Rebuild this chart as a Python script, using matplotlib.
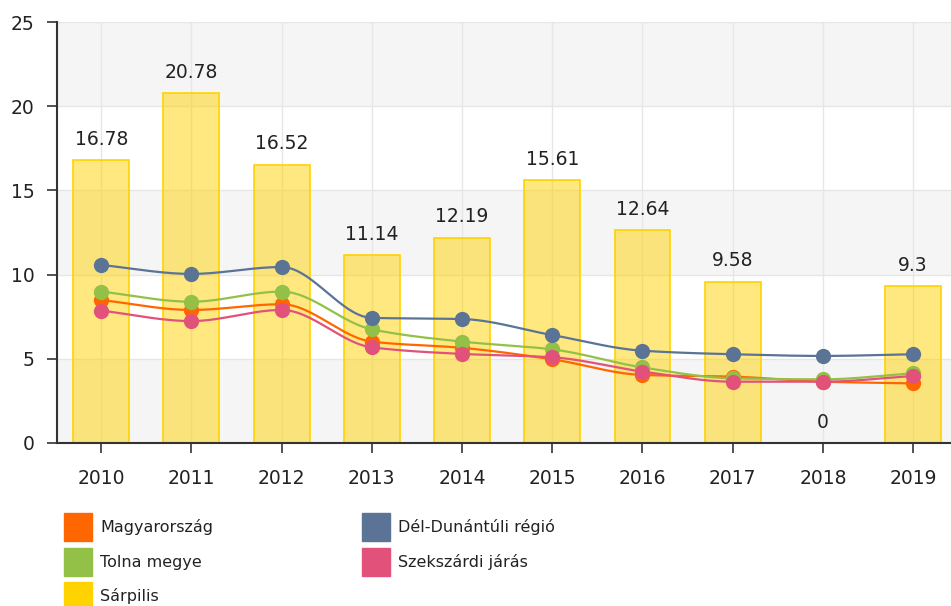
import numpy as np
import matplotlib
matplotlib.use("Agg")
import matplotlib.pyplot as plt
from matplotlib.patches import Rectangle

years = ["2010", "2011", "2012", "2013", "2014", "2015", "2016", "2017", "2018", "2019"]
sarpilis = [16.78, 20.78, 16.52, 11.14, 12.19, 15.61, 12.64, 9.58, 0, 9.3]
magyarorszag = [8.49, 7.90, 8.24, 6.02, 5.65, 4.97, 4.04, 3.94, 3.64, 3.54]
tolna = [8.99, 8.39, 8.99, 6.75, 6.02, 5.56, 4.49, 3.84, 3.78, 4.14]
del_dunantul = [10.57, 10.04, 10.45, 7.43, 7.36, 6.41, 5.48, 5.27, 5.17, 5.27]
szekszard = [7.86, 7.24, 7.90, 5.68, 5.29, 5.09, 4.24, 3.64, 3.64, 3.98]

names = ["Magyarország", "Tolna megye", "Sárpilis", "Dél-Dunántúli régió", "Szekszárdi járás"]
colors = {"Magyarország": "#FF6600", "Tolna megye": "#93C047", "Sárpilis": "#FFD300",
          "Dél-Dunántúli régió": "#5B7496", "Szekszárdi járás": "#E2517A"}

plt.rcParams['font.family'] = ['DejaVu Sans']


def smooth(x, y, n=30):
    x = np.asarray(x, float); y = np.asarray(y, float)
    h = np.diff(x); d = np.diff(y) / h
    m = np.zeros_like(y)
    m[0] = d[0]; m[-1] = d[-1]
    for i in range(1, len(y) - 1):
        if d[i - 1] * d[i] <= 0:
            m[i] = 0
        else:
            m[i] = 2 / (1 / d[i - 1] + 1 / d[i])
    xs, ys = [], []
    for i in range(len(x) - 1):
        t = np.linspace(0, 1, n)
        h00 = 2*t**3 - 3*t**2 + 1; h10 = t**3 - 2*t**2 + t
        h01 = -2*t**3 + 3*t**2; h11 = t**3 - t**2
        xs.append(x[i] + t*h[i])
        ys.append(h00*y[i] + h10*h[i]*m[i] + h01*y[i+1] + h11*h[i]*m[i+1])
    return np.concatenate(xs), np.concatenate(ys)


fig = plt.figure(figsize=(9.51, 6.06), dpi=100)
ax = fig.add_axes([57/951, 1-443/606, 1-57/951, (443-22)/606])
ax.set_xlim(-0.49, 9.42)
ax.set_ylim(0, 25)

# alternating bands
for k, lo in enumerate(range(0, 25, 5)):
    if k % 2 == 0:
        ax.axhspan(lo, lo+5, color="#F5F5F5", zorder=0, lw=0)

x = np.arange(len(years))
for xi in x:
    ax.axvline(xi, color="#E6E6E6", lw=1, zorder=0.5)
for yv in range(5, 26, 5):
    ax.axhline(yv, color="#E6E6E6", lw=1, zorder=0.5)

ax.bar(x, sarpilis, width=0.62, color="#FFD300", alpha=0.5, zorder=1, lw=0)
ax.bar(x, sarpilis, width=0.62, fill=False, edgecolor="#FFD300", lw=1.2, zorder=1.1)
for xi, v in zip(x, sarpilis):
    ax.annotate(f"{v:g}", (xi, v), xytext=(0, 15), textcoords="offset points",
                ha="center", va="center", fontsize=13.5, color="#222222", zorder=6)

series = [("Magyarország", magyarorszag), ("Tolna megye", tolna),
          ("Dél-Dunántúli régió", del_dunantul), ("Szekszárdi járás", szekszard)]
for z, (nm, vals) in enumerate(series):
    sx, sy = smooth(x, vals)
    ax.plot(sx, sy, color=colors[nm], lw=1.6, zorder=2+z*0.1)
    ax.plot(x, vals, "o", color=colors[nm], ms=11, mec="none", zorder=3+z*0.1)

ax.set_xticks(x)
ax.set_xticklabels(years)
ax.set_yticks(range(0, 26, 5))
ax.tick_params(axis="both", colors="#333333", labelcolor="#222222", labelsize=13.5,
               direction="out", length=7, width=1.2)
ax.tick_params(axis="x", pad=12)
ax.tick_params(axis="y", pad=9)
for s in ["top", "right"]:
    ax.spines[s].set_visible(False)
for s in ["left", "bottom"]:
    ax.spines[s].set_color("#333333")
    ax.spines[s].set_linewidth(1.5)

# legend
leg_items = [("Magyarország", 64, 527), ("Tolna megye", 64, 562), ("Sárpilis", 64, 596),
             ("Dél-Dunántúli régió", 362, 527), ("Szekszárdi járás", 362, 562)]
for nm, px, py in leg_items:
    fig.patches.append(Rectangle((px/951, 1-(py+14)/606), 28/951, 28/606,
                                 transform=fig.transFigure, color=colors[nm]))
    fig.text((px+36)/951, 1-py/606, nm, fontsize=11.5, va="center", ha="left", color="#222222")

fig.savefig("out.png", dpi=100)
